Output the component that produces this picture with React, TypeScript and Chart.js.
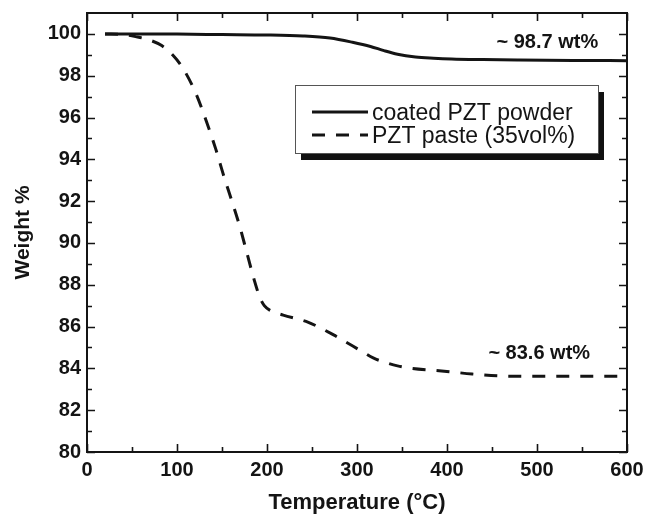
import { useEffect, useRef } from "react";
import { Chart, registerables } from "chart.js";

Chart.register(...registerables);

// ---- data ----
const seriesLabels = ["coated PZT powder", "PZT paste (35vol%)"];

const powderTemp = [20, 100, 150, 200, 240, 270, 295, 315, 330, 345, 365, 385, 405, 440, 480, 540, 600];
const powderWeight = [100, 99.99, 99.97, 99.95, 99.9, 99.8, 99.6, 99.4, 99.2, 99.03, 98.9, 98.84, 98.8, 98.77, 98.75, 98.73, 98.72];

const pasteTemp = [20, 40, 54, 70, 83, 95, 107, 122, 133, 143, 152, 161, 170, 178, 186, 192, 197, 204, 218, 246, 274, 290, 304, 318, 331, 345, 361, 394, 428, 459, 500, 550, 590];
const pasteWeight = [100, 99.97, 99.87, 99.7, 99.44, 99.0, 98.33, 97.05, 95.77, 94.5, 93.2, 92.0, 90.75, 89.47, 88.2, 87.4, 87.0, 86.76, 86.55, 86.2, 85.6, 85.2, 84.85, 84.5, 84.29, 84.12, 84.0, 83.88, 83.73, 83.64, 83.62, 83.62, 83.62];

const xTickValues = [0, 100, 200, 300, 400, 500, 600];
const yTickValues = [80, 82, 84, 86, 88, 90, 92, 94, 96, 98, 100];

const annotationTexts = ["~ 98.7 wt%", "~ 83.6 wt%"];
const annotationTemp = [568, 559];
const annotationWeight = [99.6, 84.7];

const xTitle = "Temperature (°C)";
const yTitle = "Weight %";

const FONT = '"Liberation Sans", Arial, Helvetica, sans-serif';
const INK = "#141414";

const framePlugin = {
  id: "frameAndDecor",
  afterDatasetsDraw(chart: any) {
    const { ctx, chartArea: a, scales } = chart;
    const x = scales.x;
    const y = scales.y;
    ctx.save();
    ctx.strokeStyle = INK;
    ctx.lineWidth = 2;
    ctx.strokeRect(a.left, a.top, a.right - a.left, a.bottom - a.top);
    ctx.lineWidth = 1.6;
    ctx.beginPath();
    for (let v = x.min; v <= x.max; v += 50) {
      const px = Math.round(x.getPixelForValue(v)) + 0.5;
      const len = v % 100 === 0 ? 8 : 5;
      ctx.moveTo(px, a.bottom);
      ctx.lineTo(px, a.bottom - len);
      ctx.moveTo(px, a.top);
      ctx.lineTo(px, a.top + len);
    }
    for (let v = y.min; v < y.max; v += 1) {
      const py = Math.round(y.getPixelForValue(v)) + 0.5;
      const len = v % 2 === 0 ? 8 : 5;
      ctx.moveTo(a.left, py);
      ctx.lineTo(a.left + len, py);
      ctx.moveTo(a.right, py);
      ctx.lineTo(a.right - len, py);
    }
    ctx.stroke();

    // annotations
    ctx.fillStyle = INK;
    ctx.font = `bold 20px ${FONT}`;
    ctx.textAlign = "right";
    ctx.textBaseline = "middle";
    annotationTexts.forEach((t, i) => {
      ctx.fillText(t, x.getPixelForValue(annotationTemp[i]), y.getPixelForValue(annotationWeight[i]));
    });

    // legend
    const bx = 295, by = 85, bw = 303, bh = 68;
    ctx.fillStyle = "#111";
    ctx.fillRect(bx + 6, by + 7, bw, bh);
    ctx.fillStyle = "#fff";
    ctx.fillRect(bx, by, bw, bh);
    ctx.strokeStyle = "#555";
    ctx.lineWidth = 1;
    ctx.strokeRect(bx + 0.5, by + 0.5, bw, bh);
    ctx.font = `23px ${FONT}`;
    ctx.textAlign = "left";
    ctx.textBaseline = "middle";
    chart.data.datasets.forEach((ds: any, i: number) => {
      const rowY = by + 29 + i * 23;
      ctx.strokeStyle = ds.borderColor;
      ctx.lineWidth = ds.borderWidth;
      ctx.setLineDash(ds.borderDash || []);
      ctx.beginPath();
      ctx.moveTo(312, rowY - 2);
      ctx.lineTo(368, rowY - 2);
      ctx.stroke();
      ctx.setLineDash([]);
      ctx.fillStyle = INK;
      ctx.fillText(ds.label, 372, rowY);
    });
    ctx.restore();
  },
};

export default function App() {
  const canvasRef = useRef<HTMLCanvasElement | null>(null);

  useEffect(() => {
    const canvas = canvasRef.current;
    if (!canvas) return;
    const chart = new Chart(canvas, {
      type: "line",
      data: {
        datasets: [
          {
            label: seriesLabels[0],
            data: powderTemp.map((t, i) => ({ x: t, y: powderWeight[i] })),
            borderColor: INK,
            borderWidth: 3,
            pointRadius: 0,
            fill: false,
            cubicInterpolationMode: "monotone",
          },
          {
            label: seriesLabels[1],
            data: pasteTemp.map((t, i) => ({ x: t, y: pasteWeight[i] })),
            borderColor: INK,
            borderWidth: 3,
            borderDash: [13, 11],
            pointRadius: 0,
            fill: false,
            cubicInterpolationMode: "monotone",
          },
        ],
      },
      options: {
        responsive: false,
        animation: false,
        devicePixelRatio: 1,
        layout: { padding: { left: 0, right: 19, top: 13, bottom: 0 } },
        plugins: { legend: { display: false }, tooltip: { enabled: false } },
        scales: {
          x: {
            type: "linear",
            min: 0,
            max: 600,
            grid: { display: false, drawTicks: false },
            border: { display: false },
            afterBuildTicks: (s: any) => {
              s.ticks = xTickValues.map((v) => ({ value: v }));
            },
            afterFit: (s: any) => {
              s.height = 64;
              s.paddingLeft = 0;
              s.paddingRight = 0;
            },
            ticks: {
              padding: 6,
              color: INK,
              font: { family: FONT, size: 20, weight: "bold" },
              maxRotation: 0,
            },
            title: {
              display: true,
              text: xTitle,
              color: INK,
              font: { family: FONT, size: 22, weight: "bold", lineHeight: 1.2 },
              padding: { top: 0, bottom: 0 },
            },
          },
          y: {
            type: "linear",
            min: 80,
            max: 101,
            grid: { display: false, drawTicks: false },
            border: { display: false },
            afterBuildTicks: (s: any) => {
              s.ticks = yTickValues.map((v) => ({ value: v }));
            },
            afterFit: (s: any) => {
              s.width = 87;
              s.paddingTop = 0;
              s.paddingBottom = 0;
            },
            ticks: {
              padding: 6,
              color: INK,
              font: { family: FONT, size: 20, weight: "bold" },
            },
            title: {
              display: true,
              text: yTitle,
              color: INK,
              font: { family: FONT, size: 21, weight: "bold", lineHeight: 1.2 },
              padding: { top: 11, bottom: 0 },
            },
          },
        },
      },
      plugins: [framePlugin],
    } as any);
    return () => chart.destroy();
  }, []);

  return (
    <div style={{ position: "absolute", left: 0, top: 0, width: 646, height: 516, background: "#fff" }}>
      <canvas ref={canvasRef} width={646} height={516} style={{ width: 646, height: 516, display: "block" }} />
    </div>
  );
}
